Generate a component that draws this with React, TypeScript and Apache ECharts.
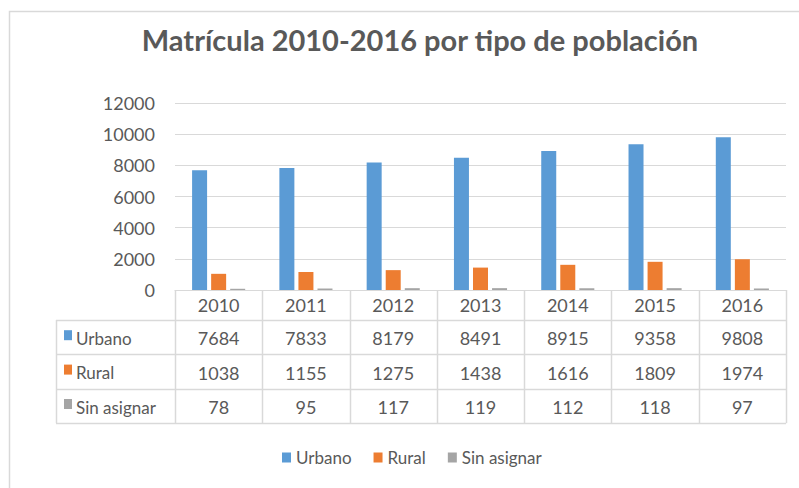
import React, { useEffect, useRef } from "react";
import * as echarts from "echarts";

const TITLE = "Matrícula 2010-2016 por tipo de población";
const years = ["2010", "2011", "2012", "2013", "2014", "2015", "2016"];
const seriesNames = ["Urbano", "Rural", "Sin asignar"];
const urbano = [7684, 7833, 8179, 8491, 8915, 9358, 9808];
const rural = [1038, 1155, 1275, 1438, 1616, 1809, 1974];
const sinAsignar = [78, 95, 117, 119, 112, 118, 97];
const seriesValues = [urbano, rural, sinAsignar];
const Y_MAX = 12000;
const Y_INTERVAL = 2000;

const COLORS = ["#5B9BD5", "#ED7D31", "#A5A5A5"];
const TEXT = "#595959";
const LINE = "#D9D9D9";
const FONT = "Lato, 'Open Sans', sans-serif";

const W = 799;
const H = 488;
const GRID_LEFT = 175;
const GRID_RIGHT = 13;
const GRID_TOP = 103;
const GRID_BOTTOM = 198;
const HEADER_H = 30;
const ROW_H = 34.4;
const TABLE_LEFT = 56;

export default function App() {
  const ref = useRef<HTMLDivElement>(null);
  useEffect(() => {
    if (!ref.current) return;
    const chart = echarts.init(ref.current, null, { renderer: "svg" });
    chart.setOption({
      animation: false,
      color: COLORS,
      textStyle: { fontFamily: FONT, color: TEXT },
      grid: { left: GRID_LEFT, right: GRID_RIGHT, top: GRID_TOP, bottom: GRID_BOTTOM, containLabel: false },
      legend: {
        data: seriesNames,
        left: 277,
        top: 444,
        icon: "rect",
        itemWidth: 9,
        itemHeight: 10,
        itemGap: 22,
        textStyle: { color: TEXT, fontSize: 17, fontFamily: FONT },
      },
      xAxis: {
        type: "category",
        data: years,
        axisLine: { show: true, lineStyle: { color: LINE, width: 1 } },
        axisTick: { show: false },
        axisLabel: {
          color: TEXT,
          fontSize: 18,
          fontFamily: FONT,
          margin: 15,
          verticalAlign: "middle",
        },
      },
      yAxis: {
        type: "value",
        min: 0,
        max: Y_MAX,
        interval: Y_INTERVAL,
        axisLine: { show: false },
        axisTick: { show: false },
        axisLabel: {
          color: TEXT,
          fontSize: 18,
          fontFamily: FONT,
          margin: 20,
          formatter: (v: number) => String(v),
        },
        splitLine: { lineStyle: { color: LINE, width: 1 } },
      },
      series: seriesNames.map((name, i) => ({
        name,
        type: "bar",
        data: seriesValues[i],
        barWidth: 15,
        barGap: "27%",
        itemStyle: { color: COLORS[i] },
      })),
    });

    // Build the data table beneath the plot from the axis positions
    const centers = years.map((y) => chart.convertToPixel({ xAxisIndex: 0 }, y) as number);
    const colW = (W - GRID_LEFT - GRID_RIGHT) / years.length;
    const axisY = H - GRID_BOTTOM;
    const rowTops = [axisY + HEADER_H];
    for (let i = 0; i < seriesNames.length; i++) rowTops.push(rowTops[i] + ROW_H);
    const tableBottom = rowTops[rowTops.length - 1];
    const px = (v: number) => Math.round(v) + 0.5;
    const graphics: any[] = [];

    // outer chart border
    graphics.push({
      type: "rect",
      shape: { x: 9.5, y: 11.5, width: 820, height: 520 },
      style: { fill: "none", stroke: LINE, lineWidth: 1.5 },
      silent: true,
    });
    // title
    graphics.push({
      type: "text",
      x: 420,
      y: 39,
      style: {
        text: TITLE,
        font: `bold 29px ${FONT}`,
        fill: TEXT,
        align: "center",
        verticalAlign: "middle",
        textAlign: "center",
        textVerticalAlign: "middle",
      },
    });
    // horizontal lines
    rowTops.forEach((y) => {
      graphics.push({
        type: "line",
        shape: { x1: TABLE_LEFT, y1: px(y), x2: W - GRID_RIGHT, y2: px(y) },
        style: { stroke: LINE, lineWidth: 1.5 },
        silent: true,
      });
    });
    // vertical lines
    graphics.push({
      type: "line",
      shape: { x1: px(TABLE_LEFT), y1: rowTops[0], x2: px(TABLE_LEFT), y2: tableBottom },
      style: { stroke: LINE, lineWidth: 1.5 },
      silent: true,
    });
    for (let k = 0; k <= years.length; k++) {
      const x = k < years.length ? centers[k] - colW / 2 : centers[years.length - 1] + colW / 2;
      graphics.push({
        type: "line",
        shape: { x1: px(x), y1: axisY, x2: px(x), y2: tableBottom },
        style: { stroke: LINE, lineWidth: 1.5 },
        silent: true,
      });
    }
    // row labels and values
    seriesNames.forEach((name, r) => {
      const cy = rowTops[r] + ROW_H / 2;
      graphics.push({
        type: "rect",
        shape: { x: 64, y: cy - 7, width: 8, height: 10 },
        style: { fill: COLORS[r] },
        silent: true,
      });
      graphics.push({
        type: "text",
        x: 76,
        y: cy + 1,
        style: {
          text: name,
          font: `17px ${FONT}`,
          fill: TEXT,
          align: "left",
          verticalAlign: "middle",
          textAlign: "left",
          textVerticalAlign: "middle",
        },
      });
      seriesValues[r].forEach((v, c) => {
        graphics.push({
          type: "text",
          x: centers[c],
          y: cy + 1,
          style: {
            text: String(v),
            font: `18px ${FONT}`,
            fill: TEXT,
            align: "center",
            verticalAlign: "middle",
            textAlign: "center",
            textVerticalAlign: "middle",
          },
        });
      });
    });
    chart.setOption({ graphic: graphics });
    return () => chart.dispose();
  }, []);
  return (
    <div
      ref={ref}
      style={{ position: "absolute", left: 0, top: 0, width: W, height: H, background: "#fff" }}
    />
  );
}
